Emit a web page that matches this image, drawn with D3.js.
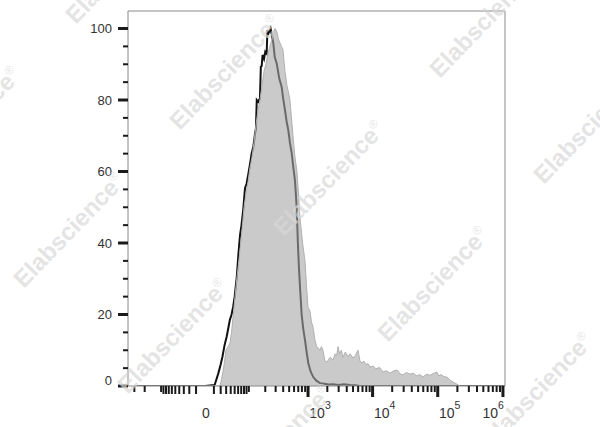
<!DOCTYPE html>
<html><head><meta charset="utf-8">
<script src="https://cdn.jsdelivr.net/npm/d3@7"></script>
<style>html,body{margin:0;padding:0;background:#fff}svg{display:block}</style>
</head><body>
<svg id="c" width="600" height="427"></svg>
<script>
// ---- data ----
const controlX = [-300,0,11,16,20,23,27,31,35,38,42,46,50,56,61,66,71,77,84,90,98,105,113,122,131,136,141,150,161,167,173,179,190,200,211,218,225,236,247,260,274,290,312,345,378,403,428,455,484,515,549,585,620,645,667,690,718,750,792,840,894,950,1008,1100,1208,1350,1537,1800,2100,2447,3000,3600,4480,5400,6390,1070000];
const controlY = [0,0,0.3,3.4,6,8.2,11.5,13.8,16.5,18.5,20,22.2,25,30.6,37,42.2,45,49.2,55.4,56.5,59.4,62,65,67,70.6,72,80,79.5,80.5,89.3,89.5,92.6,91.5,93.5,93,99.6,98.5,99.2,100,98,96,92,90.3,86,83.6,80,77.2,74,71.6,68,65.2,61,57.5,53,48,40,33,27,20,16,12.9,9.5,6.4,4,2.5,1.5,0.8,0.6,0.4,0.5,0.3,0.5,0.3,0.2,0,0];
const sampleX = [-300,0,18.8,21,24,27,29.7,34,38.2,42,45.5,51,56.6,61,65.9,72,80,88,96.2,105,114.9,125,136.4,148,161,175,189.7,205,222.6,240,260.3,276,292.5,315.7,334,354,375,396.6,428,460.9,490,515,545,576,620,667,705,745,820,894,945,997,1072,1130,1195,1280,1366,1450,1537,1620,1712,1830,1976,2200,2447,2650,2800,2927,3100,3300,3496,3800,4177,4500,4987,5400,5956,6400,6864,7300,7909,8500,9113,10200,11270,12800,14430,16200,18480,21000,23660,26500,29270,33000,37480,42000,47960,53000,59330,67000,75950,86000,97200,104000,112000,125000,138500,155000,171300,197200,219300,1070000];
const sampleY = [0,0,0,1.5,4,7,10,11,12,15,19,25,30.5,34,38,43,50,54,57,61,64,68,73,77,80,84,88,90,93,95,97,99,100,99,97,96,95,94,88,84,82,80,75,70,64,60,54,47,40,35,28,22,21,18,16.5,13,11,10.6,10,11,10,7,6.7,8,7.3,9,8.5,11,9,10,8,9.5,8.2,9,7.8,8.5,10,7,6.4,7,6,6.3,5.3,5.6,4.8,5.2,3.9,4.3,3.6,4.2,4.5,3.4,3.1,3.8,3.3,3.6,2.8,3.2,2.5,3.3,3.0,3.5,3.9,2.8,3.2,2.6,2.5,1.6,1.1,0.5,0,0];
const yMajor = [0,20,40,60,80,100];
const yMinor = [5,10,15,25,30,35,45,50,55,65,70,75,85,90,95];
const xMajor = [1000,10000,100000,1000000];
const xMinor = [-300,-200,-100,-90,-80,-70,-60,-50,-40,-30,-20,-10,10,20,30,40,50,60,70,80,90,100,200,300,400,500,600,700,800,900,2000,3000,4000,5000,6000,7000,8000,9000,20000,30000,40000,50000,60000,70000,80000,90000,200000,300000,400000,500000,600000,700000,800000,900000];
const xLabels = [{v:0,base:"0",exp:""},{v:1000,base:"10",exp:"3"},{v:10000,base:"10",exp:"4"},{v:100000,base:"10",exp:"5"},{v:1000000,base:"10",exp:"6"}];
const watermarkText = "Elabscience";
const watermarkPos = [[121,-34],[225,72],[329,178],[433,284],[537,390],[485,20],[589,126],[-35,124],[69,230],[173,336],[277,442]];

// ---- layout ----
const L = 128, R = 505, T = 11, B = 386;
const font = "'Liberation Sans', Arial, sans-serif";
const svg = d3.select("#c");
const x = d3.scaleSymlog().constant(27).domain([-382, 1075000]).range([L, R]);
const y = d3.scaleLinear().domain([0, 104.9]).range([B, T]);

svg.append("defs").append("clipPath").attr("id","clip")
  .append("rect").attr("x",L).attr("y",T).attr("width",R-L).attr("height",B-T);

const control = controlX.map((v,i)=>[v,controlY[i]]);
const sample = sampleX.map((v,i)=>[v,sampleY[i]]);

const g = svg.append("g").attr("clip-path","url(#clip)");
const line = d3.line().x(d=>x(d[0])).y(d=>y(d[1]));
const area = d3.area().x(d=>x(d[0])).y0(y(0)).y1(d=>y(d[1]));

g.append("path").datum(control).attr("d",line)
  .attr("fill","none").attr("stroke","#111").attr("stroke-width",2).attr("stroke-linejoin","miter");
g.append("path").datum(sample).attr("d",area)
  .attr("fill","#a6a6a6").attr("fill-opacity",0.6);
g.append("path").datum(sample).attr("d",line)
  .attr("fill","none").attr("stroke","#b0b0b0").attr("stroke-width",1);

// frame
svg.append("path").attr("d",`M${L},${B}V${T}H${R}V${B}H${L}`)
  .attr("fill","none").attr("stroke","#8a8a8a").attr("stroke-width",1);

// y ticks
const yAx = svg.append("g");
yAx.selectAll("line.maj").data(yMajor).join("line")
  .attr("x1",L-10).attr("x2",L).attr("y1",d=>y(d)).attr("y2",d=>y(d))
  .attr("stroke","#1a1a1a").attr("stroke-width",3);
yAx.selectAll("line.min").data(yMinor).join("line").attr("class","min")
  .attr("x1",L-5).attr("x2",L).attr("y1",d=>y(d)).attr("y2",d=>y(d))
  .attr("stroke","#1a1a1a").attr("stroke-width",2);
yAx.selectAll("text").data(yMajor).join("text")
  .attr("x",L-16).attr("y",d=>y(d) + (d===0 ? -1 : 4.5))
  .attr("text-anchor","end").attr("font-family",font).attr("font-size",13).attr("fill","#333")
  .text(d=>d);

// x ticks
const xAx = svg.append("g");
xAx.selectAll("line.min").data(xMinor).join("line").attr("class","min")
  .attr("x1",d=>x(d)).attr("x2",d=>x(d)).attr("y1",B).attr("y2",d=> (Math.abs(d)<100 ? B+8 : B+6))
  .attr("stroke","#1a1a1a").attr("stroke-width",2);
xAx.selectAll("line.maj").data(xMajor).join("line").attr("class","maj")
  .attr("x1",d=>x(d)).attr("x2",d=>x(d)).attr("y1",B).attr("y2",B+11)
  .attr("stroke","#1a1a1a").attr("stroke-width",3);
const xt = xAx.selectAll("text").data(xLabels).join("text")
  .attr("x",d=> d.v===0 ? x(d.v)+1 : (d.v===1000000 ? x(d.v)+1 : x(d.v)+12))
  .attr("y",418)
  .attr("text-anchor",d=> d.v===0 ? "middle" : (d.v===1000000 ? "end" : "middle"))
  .attr("font-family",font).attr("font-size",14).attr("fill","#333");
xt.append("tspan").text(d=>d.base);
xt.filter(d=>d.exp).append("tspan").attr("dy",-9).attr("font-size",10.5).text(d=>d.exp);

// watermarks
const wm = svg.append("g").attr("pointer-events","none");
watermarkPos.forEach(p=>{
  const t = wm.append("text")
    .attr("transform",`translate(${p[0]},${p[1]}) rotate(-46)`)
    .attr("text-anchor","middle").attr("dy","0.35em")
    .attr("font-family",font).attr("font-weight","bold").attr("font-size",24)
    .attr("fill","#d8d8d8").attr("fill-opacity",0.7);
  t.append("tspan").text(watermarkText);
  t.append("tspan").attr("dy",-10).attr("font-size",12).attr("font-weight","normal").text("®");
});
</script>
</body></html>
